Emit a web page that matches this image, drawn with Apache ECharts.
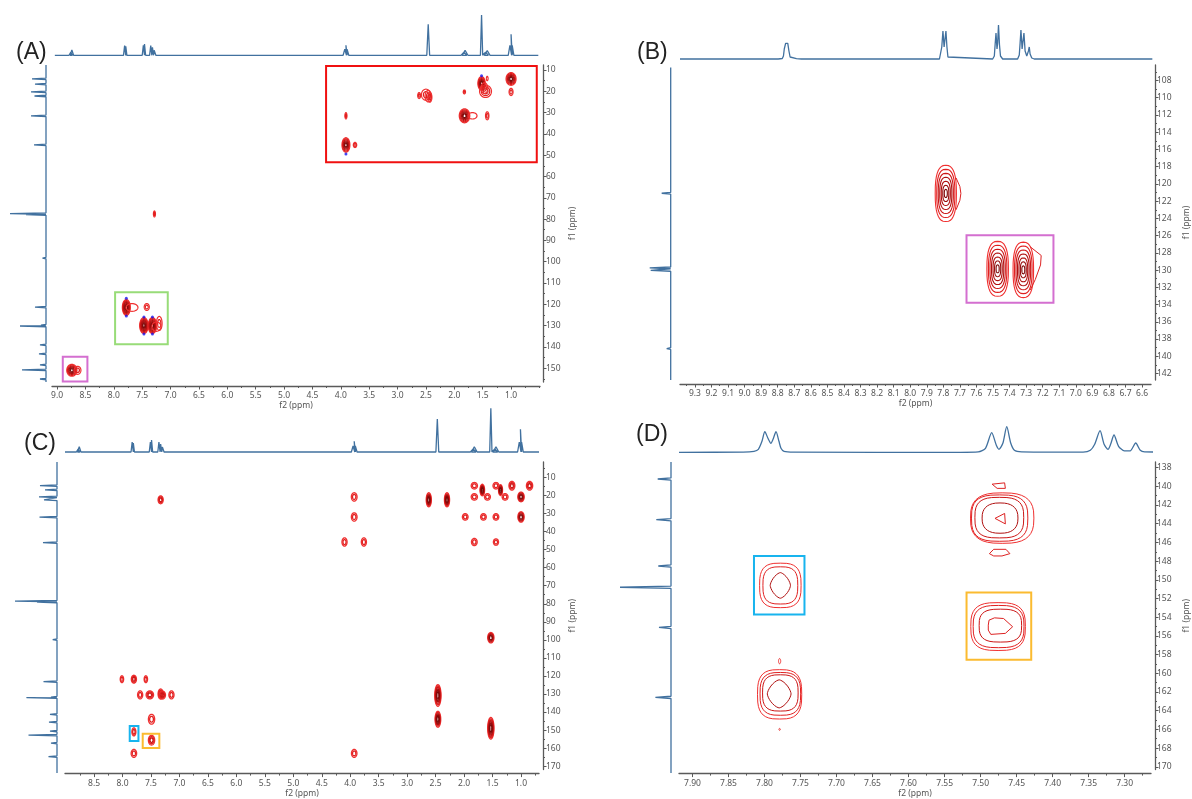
<!DOCTYPE html>
<html><head><meta charset="utf-8">
<style>html,body{margin:0;padding:0;background:#fff}#c{width:1192px;height:799px}</style>
<script src="https://cdn.jsdelivr.net/npm/echarts@6/dist/echarts.min.js"></script>
</head><body><div id="c"></div>
<script>
// ---------- tick labels ----------
const A_xTicks=[9,8.5,8,7.5,7,6.5,6,5.5,5,4.5,4,3.5,3,2.5,2,1.5,1];
const A_xMinor=[8.75,8.25,7.75,7.25,6.75,6.25,5.75,5.25,4.75,4.25,3.75,3.25,2.75,2.25,1.75,1.25,0.75,0.5];
const A_yTicks=[10,20,30,40,50,60,70,80,90,100,110,120,130,140,150];
const A_yMinor=[15,25,35,45,55,65,75,85,95,105,115,125,135,145,155];
const B_xTicks=[9.3,9.2,9.1,9,8.9,8.8,8.7,8.6,8.5,8.4,8.3,8.2,8.1,8,7.9,7.8,7.7,7.6,7.5,7.4,7.3,7.2,7.1,7,6.9,6.8,6.7,6.6];
const B_xMinor=[9.35,9.25,9.15,9.05,8.95,8.85,8.75,8.65,8.55,8.45,8.35,8.25,8.15,8.05,7.95,7.85,7.75,7.65,7.55,7.45,7.35,7.25,7.15,7.05,6.95,6.85,6.75,6.65];
const B_yTicks=[108,110,112,114,116,118,120,122,124,126,128,130,132,134,136,138,140,142];
const B_yMinor=[107,109,111,113,115,117,119,121,123,125,127,129,131,133,135,137,139,141,143];
const C_xTicks=[8.5,8,7.5,7,6.5,6,5.5,5,4.5,4,3.5,3,2.5,2,1.5,1];
const C_xMinor=[8.75,8.25,7.75,7.25,6.75,6.25,5.75,5.25,4.75,4.25,3.75,3.25,2.75,2.25,1.75,1.25,0.75];
const C_yTicks=[10,20,30,40,50,60,70,80,90,100,110,120,130,140,150,160,170];
const C_yMinor=[5,15,25,35,45,55,65,75,85,95,105,115,125,135,145,155,165];
const D_xTicks=[7.9,7.85,7.8,7.75,7.7,7.65,7.6,7.55,7.5,7.45,7.4,7.35,7.3];
const D_xMinor=[7.875,7.825,7.775,7.725,7.675,7.625,7.575,7.525,7.475,7.425,7.375,7.325,7.275];
const D_yTicks=[138,140,142,144,146,148,150,152,154,156,158,160,162,164,166,168,170];
const D_yMinor=[139,141,143,145,147,149,151,153,155,157,159,161,163,165,167,169];

// ---------- 1D traces: [ppm, intensity, foot half-width] ----------
const A_topPeaks=[[8.76,3,.03],[8.74,5.3,.03],[7.81,9.6,.02],[7.79,9,.02],[7.48,10,.02],[7.46,11.3,.02],[7.35,9.6,.02],[7.32,8,.02],[7.29,5,.03],[3.93,6,.03],[3.91,10,.02],[3.89,6,.03],[2.46,31,.025],[1.83,3,.05],[1.81,5,.05],[1.52,40.3,.02],[1.45,3,.05],[1.42,4.6,.05],[1.02,10,.03],[1,21,.02],[.98,10,.03]];
const B_topTrace=[[9.39,0],[8.8,0],[8.775,.5],[8.768,3],[8.763,10],[8.755,15.7],[8.747,15.5],[8.742,15.7],[8.735,8],[8.728,2],[8.72,.6],[8.69,.3],[8.66,0],[7.83,0],[7.822,2],[7.816,12],[7.809,28],[7.802,12],[7.799,10],[7.796,14],[7.791,28],[7.785,12],[7.779,2],[7.77,0],[7.51,0],[7.5,3],[7.495,15],[7.49,26],[7.484,10],[7.48,16],[7.475,34],[7.469,14],[7.463,3],[7.45,0],[7.36,0],[7.35,4],[7.345,16],[7.34,29],[7.333,10],[7.327,12],[7.322,26],[7.315,8],[7.305,3],[7.295,8],[7.29,12],[7.285,5],[7.275,1],[7.26,0],[6.55,0]];
const C_topPeaks=[[8.78,3,.03],[8.76,5.3,.03],[7.83,10,.02],[7.81,9,.02],[7.51,10,.02],[7.49,12,.02],[7.36,10,.02],[7.33,8,.02],[7.3,5,.03],[3.95,6,.03],[3.93,10.7,.02],[3.91,6,.03],[2.47,33,.025],[1.84,3,.05],[1.82,5.3,.05],[1.53,43.7,.02],[1.46,3,.05],[1.44,5.3,.05],[1.03,10,.03],[1.01,22.7,.02],[.99,10,.03]];
const D_topTrace=[[7.9187,0],[7.83,.2],[7.815,1],[7.809,3],[7.804,11],[7.8,20.6],[7.7957,14],[7.7916,9],[7.7887,13],[7.7846,20.6],[7.7805,11],[7.7777,4],[7.7735,1],[7.76,.2],[7.53,0],[7.505,.4],[7.495,4],[7.4864,19.6],[7.48,7],[7.4763,3],[7.471,9],[7.4656,25.6],[7.46,9],[7.455,2],[7.445,.4],[7.4,.2],[7.36,.2],[7.35,2],[7.344,8],[7.3366,21.6],[7.331,8],[7.3256,3],[7.322,8],[7.3173,17.3],[7.311,6],[7.303,1.5],[7.295,1.5],[7.2873,9.3],[7.281,2],[7.275,.4],[7.2634,.3]];
const A_sidePeaks=[[14.2,14],[16.6,11],[20.3,15],[22.2,11.5],[31.5,15],[45.2,12],[77.4,36],[77.9,20],[98.3,3.5],[121.3,11],[129.8,5],[130.2,26],[139.1,6],[143.3,7],[148.5,6],[150.8,24],[155.1,6]];
const B_sidePeaks=[[121.08,9],[129.74,21],[130.03,20],[139.1,4]];
const C_sidePeaks=[[14.4,17],[16.7,12],[20.6,18],[22.2,13],[31.7,17.5],[45.6,14],[77.7,42],[78.2,20],[98.8,4.3],[121.8,13.5],[130.3,6],[130.6,30.5],[139.8,7],[144,8],[149,7],[151.1,28.5],[155.5,6],[162.9,8.5]];
const D_sidePeaks=[[139.2,13.3],[143.5,14.7],[148.4,12.7],[150.65,51],[154.9,12],[162.3,15.6]];

// ---------- 2D contours: [f2, f1, half-extent f2, half-extent f1, ring count, roundness, level] ----------
const A_blobs=[
[3.91,45.2,.07,3.4,6],[3.75,45.2,.03,1.2,2],[3.91,31.5,.018,1.5,2],
[2.5,21.6,.08,2.6,2],[2.46,22.3,.055,2.7,2],[2.43,22.8,.035,2.3,2],[2.62,22,.025,1.4,2],
[1.823,20.3,.02,.9,2],[1.82,31.5,.093,3.3,6],[1.68,31.5,.08,1.5,1],[1.42,31.5,.03,1.9,2],
[1.52,16.3,.065,3.2,6],[1.42,14,.015,1,1],[1.45,20,.105,2.9,3],[1.47,18.5,.06,2.5,2],
[1,14.2,.088,3,6],[1,20.3,.035,1.7,2],
[7.285,77.6,.018,1.4,2],
[7.78,121.5,.07,3.75,7],[7.68,121.5,.105,1.8,1],[7.42,121.3,.045,1.6,2],
[7.47,130,.075,3.75,7],[7.32,130,.075,3.75,7],[7.2,129,.05,3.3,2],[7.25,130.5,.08,2.2,1],
[8.74,151,.09,2.8,6],[8.64,151,.06,1.9,2]];
const B_blobs=[[7.785,121.1,.064,3.26,7,2.6],[7.472,129.85,.065,3.19,7,2.6],[7.317,129.97,.062,3.22,7,2.6]];
const C_blobs=[
[3.93,20.8,.05,2.3,2],[3.93,31.9,.05,2.3,2],[4.1,45.8,.045,2.3,2],[3.76,45.8,.045,2.3,2],
[2.62,22.4,.045,3.9,5],[2.3,22.4,.045,3.9,5],
[1.82,14.6,.055,1.8,2],[1.82,20.8,.055,1.8,2],[1.98,31.9,.05,1.8,2],[1.66,31.9,.05,1.8,2],[1.44,31.9,.05,1.8,2],[1,31.9,.055,2.9,4],
[1.68,17,.04,3.2,5],[1.59,20.8,.052,1.8,2],[1.44,14.6,.052,1.8,2],[1.36,17,.035,3,4],[1.28,20.8,.052,1.8,2],
[1.16,14.6,.052,2.4,3],[1,20.8,.056,2.7,4],[.85,14.6,.055,2.4,3],[1.82,45.8,.05,2,2],[1.44,45.8,.045,1.8,2],
[7.33,22.4,.045,2.2,3],[1.53,98.8,.055,2.9,4],[2.46,130.8,.055,6,6],[2.46,144,.05,4.4,5],[1.53,149,.055,6,6],[3.93,162.9,.048,2.2,2],
[8.01,121.8,.03,1.9,2],[7.8,121.8,.045,2.2,3],[7.59,121.8,.03,1.9,2],[7.69,130.5,.045,2.2,2],[7.52,130.5,.065,2.2,3],
[7.33,130,.045,2.8,3],[7.3,130.6,.055,2.2,3],[7.14,130.5,.045,2.2,2],[7.49,144,.055,2.7,2],[7.8,151,.035,2.2,2],[7.49,155.6,.055,2.7,3],[7.8,162.9,.048,2.2,2]];
const D_blobs=[
[7.778,150.6,.0288,2.38,1,3,0],[7.778,150.6,.0242,1.99,1,3,1],[7.778,150.6,.0141,1.37,1,1.5,3],
[7.47,143.4,.044,2.7,1,2.8,0],[7.4735,143.4,.0391,2.48,1,3,1],[7.474,143.35,.0339,2.17,1,3,2],[7.473,143.4,.0249,1.62,1,2.5,3],
[7.4757,155,.0379,2.56,1,3,0],[7.475,155,.0353,2.26,1,3,1],[7.4725,154.9,.0295,1.76,1,3,2],
[7.779,162.25,.0307,2.64,1,3,0],[7.778,162.2,.0282,2.29,1,3,1],[7.778,162.1,.0247,1.94,1,3,2],[7.7796,162.2,.0165,1.5,1,1.5,3],
[7.779,158.7,.0015,.28,1,2,0],[7.779,166,.001,.1,1,2,0]];
const A_lines=[];
const B_lines=[
[[7.723,119.3],[7.7,120.3],[7.694,121.1],[7.7,121.9],[7.723,123]],
[[7.275,127.3],[7.209,128.3],[7.213,129.4],[7.245,131.1],[7.275,132.3]]];
const C_lines=[];
const D_lines=[
[[7.48,143.43],[7.4666,142.9],[7.4656,144.02],[7.48,143.43]],
[[7.484,139.77],[7.4666,139.63],[7.4656,140.22],[7.477,140.22],[7.484,139.77]],
[[7.4878,147.2],[7.4818,146.74],[7.4648,146.74],[7.4593,147.2],[7.4703,147.45],[7.4818,147.45],[7.4878,147.2]],
[[7.4893,154.85],[7.4883,154.32],[7.4807,154.07],[7.4681,154.14],[7.4555,155.02],[7.4656,155.73],[7.4858,155.84],[7.4893,155.38],[7.4893,154.85]]];
const A_blue=[[1.52,12.7],[3.91,49.4],[7.78,117.2],[7.78,125.5],[7.47,126],[7.47,134],[7.32,126],[7.32,134]];
// boxes: [f2 left, f1 top, f2 right, f1 bottom, colour name]
const A_boxes=[[4.26,8.1,.547,53.3,'red'],[7.978,114.4,7.05,138.8,'green'],[8.9,144.6,8.466,156.3,'pink']];
const B_boxes=[[7.66,125.94,7.135,133.8,'pink']];
const C_boxes=[[7.873,147.8,7.72,156,'blue'],[7.645,152.1,7.353,160,'orange']];
const D_boxes=[[7.8146,147.45,7.7445,153.72,'blue'],[7.5195,151.36,7.4297,158.55,'orange']];

// ---------- styles ----------
const boxColors={red:'#f01010',green:'#98dc78',pink:'#d46fd0',blue:'#18b4ee',orange:'#fbbb30'};
const ringColors=['#f03030','#e02020','#cc1616','#b01010','#960c0c','#7c0808'];
const traceColor='#41719f', axisColor='#5a5a5a', labelColor='#555';
const fontFamily="'Noto Sans',sans-serif";

const grids=[],xAxes=[],yAxes=[],series=[];
function sticks(peaks,a,b,hw){
  const sorted=peaks.slice().sort((p,q)=>a<b?p[0]-q[0]:q[0]-p[0]);
  const s=a<b?1:-1,out=[[a,0]];
  sorted.forEach(p=>{const w=p[2]||hw;out.push([p[0]-s*w,0],[p[0],p[1]],[p[0]+s*w,0]);});
  out.push([b,0]);return out;
}
function hiddenAxis(o){return Object.assign({show:false,scale:true,splitLine:{show:false}},o);}
function addPanel(P){
  const {L,R,T,B,xr,yr}=P;
  const gi=grids.length;
  grids.push({left:L,top:T,width:R-L,height:B-T,containLabel:false});
  const xi=xAxes.length,yi=yAxes.length;
  const tx={type:'value',gridIndex:gi,inverse:true,min:xr[1],max:xr[0],position:'bottom',splitLine:{show:false}};
  const ty={type:'value',gridIndex:gi,inverse:true,min:yr[0],max:yr[1],position:'right',splitLine:{show:false}};
  xAxes.push(Object.assign({},tx,{offset:P.xOff,name:'f2 (ppm)',nameLocation:'center',nameGap:P.xNameGap,
    nameTextStyle:{color:labelColor,fontSize:8.5,fontFamily},
    axisLine:{onZero:false,lineStyle:{color:axisColor,width:1.3}},
    axisTick:{length:3.5,customValues:P.xTicks,lineStyle:{color:axisColor,width:1}},
    axisLabel:{customValues:P.xTicks,color:labelColor,fontSize:8.5,fontFamily,margin:5.5,hideOverlap:false,
      formatter:v=>(+v).toFixed(P.xDec)}}));
  xAxes.push(Object.assign({},tx,{offset:P.xOff,axisLine:{show:false,onZero:false},axisLabel:{show:false},
    axisTick:{length:2,customValues:P.xMinor,lineStyle:{color:axisColor,width:1}}}));
  yAxes.push(Object.assign({},ty,{offset:P.yOff,name:'f1 (ppm)',nameLocation:'center',nameGap:P.yNameGap,nameRotate:90,
    nameTextStyle:{color:labelColor,fontSize:8.5,fontFamily},
    axisLine:{onZero:false,lineStyle:{color:axisColor,width:1.3}},
    axisTick:{length:3.5,customValues:P.yTicks,lineStyle:{color:axisColor,width:1}},
    axisLabel:{customValues:P.yTicks,color:labelColor,fontSize:8.5,fontFamily,margin:P.yLabelGap,hideOverlap:false}}));
  yAxes.push(Object.assign({},ty,{offset:P.yOff,axisLine:{show:false,onZero:false},axisLabel:{show:false},
    axisTick:{length:2,customValues:P.yMinor,lineStyle:{color:axisColor,width:1}}}));
  // contours
  const blobs=P.blobs;
  series.push({type:'custom',coordinateSystem:'cartesian2d',xAxisIndex:xi,yAxisIndex:yi,clip:false,silent:true,
    data:blobs.map(b=>[b[0],b[1]]),encode:{x:0,y:1},
    renderItem(params,api){
      const b=blobs[params.dataIndex],n=b[4]||1,e=b[5]||2,lvl=b[6]||0,children=[];
      for(let k=0;k<n;k++){
        const f=1-k/n*(P.core||1),pts=[];
        for(let t=0;t<36;t++){
          const a=t/36*2*Math.PI,c=Math.cos(a),s=Math.sin(a);
          pts.push(api.coord([b[0]+b[2]*f*Math.sign(c)*Math.pow(Math.abs(c),2/e),b[1]+b[3]*f*Math.sign(s)*Math.pow(Math.abs(s),2/e)]));
        }
        const ci=n===1?lvl:(n<=3?k:Math.round(k/(n-1)*(ringColors.length-1)));
        children.push({type:'polygon',shape:{points:pts},style:{fill:'none',stroke:ringColors[ci],lineWidth:P.ringW||1.2}});
      }
      return {type:'group',children};
    }});
  // irregular contour pieces
  const lines=P.lines;
  if(lines.length) series.push({type:'custom',coordinateSystem:'cartesian2d',xAxisIndex:xi,yAxisIndex:yi,clip:false,silent:true,
    data:lines.map(l=>l[0]),encode:{x:0,y:1},
    renderItem(params,api){
      return {type:'polyline',shape:{points:lines[params.dataIndex].map(q=>api.coord(q))},style:{fill:'none',stroke:'#dd2222',lineWidth:1}};
    }});
  // boxes
  const boxes=P.boxes;
  series.push({type:'custom',coordinateSystem:'cartesian2d',xAxisIndex:xi,yAxisIndex:yi,clip:false,silent:true,z:3,
    data:boxes.map(b=>[b[0],b[1]]),encode:{x:0,y:1},
    renderItem(params,api){
      const b=boxes[params.dataIndex],p=api.coord([b[0],b[1]]),q=api.coord([b[2],b[3]]);
      return {type:'rect',shape:{x:p[0],y:p[1],width:q[0]-p[0],height:q[1]-p[1]},style:{fill:'none',stroke:boxColors[b[4]],lineWidth:2}};
    }});
  if(P.blue) series.push({type:'scatter',xAxisIndex:xi,yAxisIndex:yi,data:P.blue,symbolSize:3,itemStyle:{color:'#1515ee'},silent:true});
  // top trace
  const gt=grids.length;
  grids.push({left:L,top:P.topTop,width:R-L,height:P.topBase-P.topTop});
  const xt=xAxes.length,yt=yAxes.length;
  xAxes.push(hiddenAxis({type:'value',gridIndex:gt,inverse:true,min:xr[1],max:xr[0]}));
  yAxes.push(hiddenAxis({type:'value',gridIndex:gt,min:0,max:P.topBase-P.topTop}));
  series.push({type:'line',xAxisIndex:xt,yAxisIndex:yt,data:P.topTrace,showSymbol:false,smooth:P.topSmooth||false,silent:true,
    lineStyle:{color:traceColor,width:1.3},clip:false,animation:false});
  // side trace
  const gs=grids.length;
  grids.push({left:P.sideBase-P.sideW,top:T,width:P.sideW,height:B-T});
  const xs=xAxes.length,ys=yAxes.length;
  xAxes.push(hiddenAxis({type:'value',gridIndex:gs,inverse:true,min:0,max:P.sideW}));
  yAxes.push(hiddenAxis({type:'value',gridIndex:gs,inverse:true,min:yr[0],max:yr[1]}));
  series.push({type:'line',xAxisIndex:xs,yAxisIndex:ys,
    data:sticks(P.sidePeaks,P.sideRange[0],P.sideRange[1],P.sideHw).map(q=>[q[1],q[0]]),
    showSymbol:false,silent:true,clip:false,lineStyle:{color:traceColor,width:1.3},animation:false});
}
addPanel({L:52,R:540,T:65,B:382,xr:[9.09,.49],yr:[7.65,156.5],xOff:4,yOff:3,xNameGap:15,yNameGap:25,yLabelGap:3,core:.88,ringW:1.2,
  xDec:1,xTicks:A_xTicks,xMinor:A_xMinor,yTicks:A_yTicks,yMinor:A_yMinor,blobs:A_blobs,lines:A_lines,boxes:A_boxes,blue:A_blue,
  topTop:10,topBase:55.3,topTrace:sticks(A_topPeaks,9.04,.52,.03),
  sideBase:46,sideW:42,sidePeaks:A_sidePeaks,sideRange:[7.65,156.5],sideHw:.35});
addPanel({L:680,R:1153,T:65,B:380,xr:[9.39,6.546],yr:[106.2,142.75],xOff:4,yOff:4,xNameGap:15,yNameGap:27,yLabelGap:2,ringW:1.1,
  xDec:1,xTicks:B_xTicks,xMinor:B_xMinor,yTicks:B_yTicks,yMinor:B_yMinor,blobs:B_blobs,lines:B_lines,boxes:B_boxes,
  topTop:15,topBase:59,topTrace:B_topTrace,
  sideBase:670.7,sideW:42,sidePeaks:B_sidePeaks,sideRange:[106.5,142.75],sideHw:.1});
addPanel({L:65,R:539,T:462,B:773,xr:[9.01,.684],yr:[1.45,171.9],xOff:4,yOff:4,xNameGap:15,yNameGap:25,yLabelGap:3,core:.8,ringW:1.3,
  xDec:1,xTicks:C_xTicks,xMinor:C_xMinor,yTicks:C_yTicks,yMinor:C_yMinor,blobs:C_blobs,lines:C_lines,boxes:C_boxes,
  topTop:405,topBase:452,topTrace:sticks(C_topPeaks,9.01,.684,.03),
  sideBase:57,sideW:50,sidePeaks:C_sidePeaks,sideRange:[1.45,171.9],sideHw:.4});
addPanel({L:679,R:1153,T:462,B:773,xr:[7.9187,7.2634],yr:[137.4,170.3],xOff:4,yOff:4,xNameGap:15,yNameGap:27,yLabelGap:2,ringW:1,
  xDec:2,xTicks:D_xTicks,xMinor:D_xMinor,yTicks:D_yTicks,yMinor:D_yMinor,blobs:D_blobs,lines:D_lines,boxes:D_boxes,
  topTop:415,topBase:452.3,topTrace:D_topTrace,topSmooth:.25,
  sideBase:671,sideW:55,sidePeaks:D_sidePeaks,sideRange:[137.4,170.3],sideHw:.12});

const panelLabels=[['(A)',16,41],['(B)',637,41],['(C)',24,432],['(D)',636,423]];
const titles=panelLabels.map(l=>({text:l[0],left:l[1],top:l[2],padding:0,textStyle:{fontSize:23,fontWeight:'normal',color:'#222',fontFamily:"'Liberation Sans',Arial,sans-serif"}}));

const chart=echarts.init(document.getElementById('c'),null,{renderer:'canvas'});
chart.setOption({animation:false,backgroundColor:'#fff',title:titles,grid:grids,xAxis:xAxes,yAxis:yAxes,series});
</script></body></html>
